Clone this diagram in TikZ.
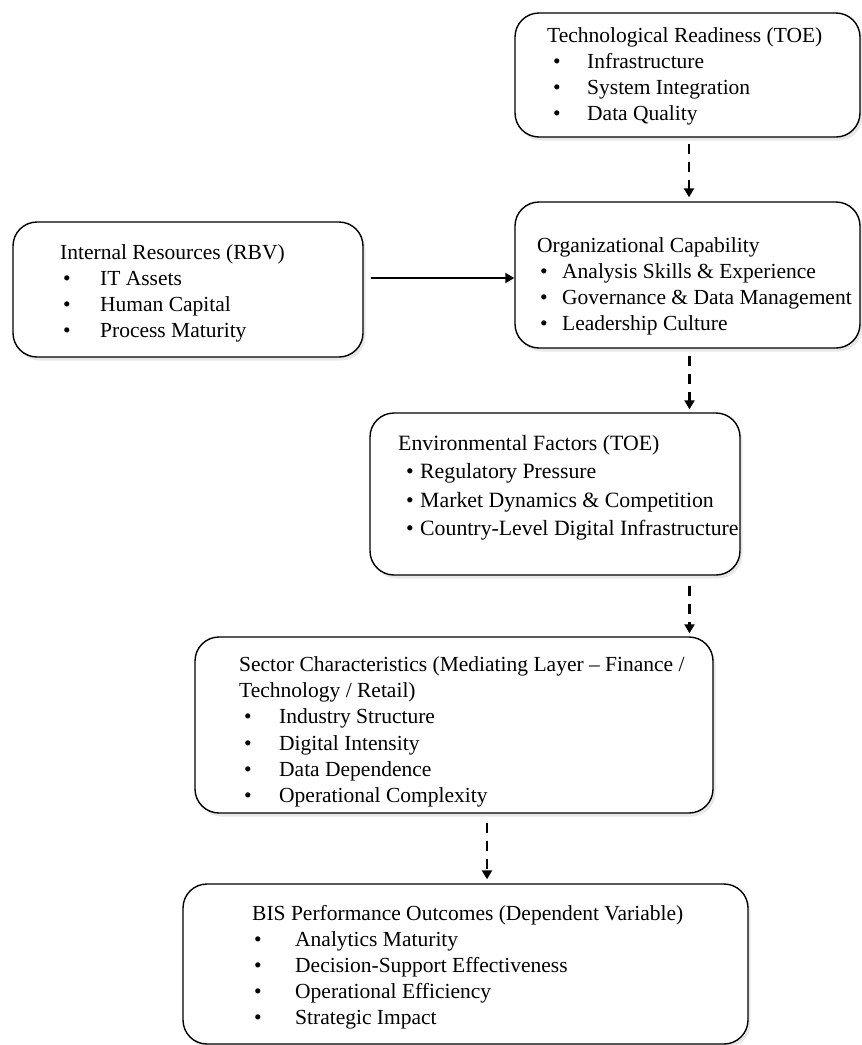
\documentclass[tikz,border=0pt]{standalone}
\usepackage{fontspec}
\setmainfont{Liberation Serif}
\usetikzlibrary{positioning,shadows,arrows.meta}

% bullet line: indent, width of bullet column, text
\newcommand{\bul}[3]{\hspace*{#1}\makebox[#2][l]{\textbullet}#3}

\tikzset{
  panel/.style={draw, line width=1.4pt, rounded corners=24pt, fill=white,
    drop shadow={shadow xshift=2.5pt, shadow yshift=-3.5pt, opacity=0.3, fill=black!30}},
  panel text/.style={anchor=north west, align=left, inner sep=0pt,
    font=\fontsize{21.5}{26}\selectfont},
  flow/.style={-{Triangle[length=9pt,width=10pt]}, line width=2.6pt, dash pattern=on 10pt off 8pt},
  link/.style={-{Triangle[length=9pt,width=10pt]}, line width=2pt},
}

\begin{document}
\begin{tikzpicture}[x=1pt,y=-1pt]
  \useasboundingbox (0,0) rectangle (862,1045);

  % boxes
  \node[panel, minimum width=345pt, minimum height=124pt] (tech) at (687.5,75) {};
  \node[panel, minimum width=345pt, minimum height=146pt] (org) at (687.5,275) {};
  \node[panel, minimum width=350pt, minimum height=135pt] (rbv) at (188,289.5) {};
  \node[panel, minimum width=370pt, minimum height=162pt] (env) at (555,494) {};
  \node[panel, minimum width=518pt, minimum height=176pt] (sector) at (454,725) {};
  \node[panel, minimum width=565pt, minimum height=160pt] (bis) at (465.5,964) {};
  \coordinate (spine) at ([xshift=2pt]org.south);

  % texts
  \node[panel text] (tech text) at (547,27) {Technological Readiness (TOE)\\
    \bul{6pt}{34pt}{Infrastructure}\\
    \bul{6pt}{34pt}{System Integration}\\
    \bul{6pt}{34pt}{Data Quality}};
  \node[panel text] (org text) at (537,237) {Organizational Capability\\
    \bul{3pt}{22pt}{Analysis Skills \& Experience}\\
    \bul{3pt}{22pt}{Governance \& Data Management}\\
    \bul{3pt}{22pt}{Leadership Culture}};
  \node[panel text] (rbv text) at (60,244) {Internal Resources (RBV)\\
    \bul{3pt}{37pt}{IT Assets}\\
    \bul{3pt}{37pt}{Human Capital}\\
    \bul{3pt}{37pt}{Process Maturity}};
  \node[panel text, font=\fontsize{21.8}{28.5}\selectfont] (env text) at (398,435) {Environmental Factors (TOE)\\
    \bul{8pt}{14pt}{Regulatory Pressure}\\
    \bul{8pt}{14pt}{Market Dynamics \& Competition}\\
    \bul{8pt}{14pt}{Country-Level Digital Infrastructure}};
  \node[panel text, font=\fontsize{21.5}{26.3}\selectfont] (sector text) at (239,656) {Sector Characteristics (Mediating Layer -- Finance /\\
    Technology / Retail)\\
    \bul{5pt}{35pt}{Industry Structure}\\
    \bul{5pt}{35pt}{Digital Intensity}\\
    \bul{5pt}{35pt}{Data Dependence}\\
    \bul{5pt}{35pt}{Operational Complexity}};
  \node[panel text] (bis text) at (252,905) {BIS Performance Outcomes (Dependent Variable)\\
    \bul{2pt}{41pt}{Analytics Maturity}\\
    \bul{2pt}{41pt}{Decision-Support Effectiveness}\\
    \bul{2pt}{41pt}{Operational Efficiency}\\
    \bul{2pt}{41pt}{Strategic Impact}};

  % connectors
  \draw[flow] ([xshift=1.5pt,yshift=-6pt]tech.south) -- ([xshift=1.5pt,yshift=4pt]org.north);
  \draw[link] ([xshift=7pt,yshift=-3pt]rbv.east |- org.west) -- ([yshift=-3pt]org.west);
  \draw[flow] ([yshift=-7pt]spine) -- ([yshift=3pt]env.north -| spine);
  \draw[flow] ([yshift=-10pt]env.south -| spine) -- ([yshift=3pt]sector.north -| spine);
  \draw[flow] ([xshift=33pt,yshift=-9pt]sector.south) -- ([xshift=33pt,yshift=4pt]sector.south |- bis.north);
\end{tikzpicture}
\end{document}
